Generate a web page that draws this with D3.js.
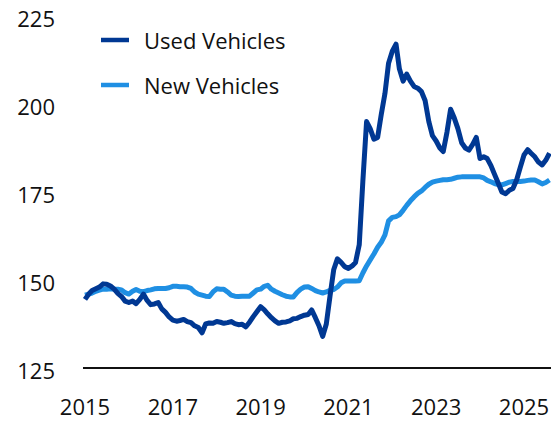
<!DOCTYPE html>
<html>
<head>
<meta charset="utf-8">
<script src="https://cdn.jsdelivr.net/npm/d3@7"></script>
<style>
  body { margin: 0; background: #fff; }
  text { font-family: "Open Sans", "Noto Sans", sans-serif; fill: #111; }
</style>
</head>
<body>
<svg width="551" height="421"></svg>
<script>
// monthly index values, Jan 2015 .. Aug 2025
var startMonth = new Date(2015, 0, 1);

var usedVehicles = [
	144.5, 146.0, 147.0, 147.5, 148.0, 148.9, 148.8, 148.3, 147.4, 146.2, 145.3, 144.0,
	143.6, 144.0, 143.3, 144.5, 146.0, 144.2, 143.0, 143.2, 143.6, 141.8, 140.8, 139.5,
	138.6, 138.3, 138.5, 138.8, 138.2, 137.9, 137.0, 136.5, 135.0, 137.5, 137.8, 137.7,
	138.2, 138.0, 137.7, 137.9, 138.2, 137.6, 137.3, 137.4, 136.7, 138.0, 139.6, 141.0,
	142.4, 141.5, 140.4, 139.3, 138.4, 137.7, 138.0, 138.1, 138.4, 139.0, 139.1, 139.6,
	140.0, 140.2, 141.5, 139.3, 137.0, 134.0, 137.5, 145.5, 153.0, 156.0, 155.0, 153.8,
	153.3, 154.0, 155.0, 160.0, 178.0, 195.0, 193.0, 190.0, 190.5, 197.0, 203.0, 211.6,
	215.0, 217.0, 210.0, 206.5, 208.5, 206.5, 205.0, 204.5, 203.5, 201.0, 195.0, 191.0,
	189.5, 187.5, 186.5, 192.0, 198.5, 196.0, 193.0, 189.0, 187.5, 186.9, 188.5, 190.5,
	184.5, 185.0, 184.5, 182.5, 180.0, 177.5, 175.0, 174.5, 175.5, 176.0, 178.5, 182.0,
	185.5, 187.0, 186.0, 185.0, 183.5, 182.7, 184.0, 186.0
];

var newVehicles = [
	145.7, 146.0, 146.3, 146.8, 147.1, 147.4, 147.4, 147.5, 147.4, 147.4, 147.2, 146.4,
	146.0, 146.8, 147.3, 146.8, 146.7, 147.0, 147.2, 147.5, 147.6, 147.6, 147.6, 147.8,
	148.2, 148.2, 148.1, 148.1, 148.0, 147.6, 146.6, 146.0, 145.7, 145.4, 145.3, 146.6,
	147.5, 147.4, 147.4, 146.6, 145.7, 145.4, 145.3, 145.4, 145.4, 145.4, 146.3, 147.2,
	147.4, 148.2, 148.5, 147.4, 146.8, 146.3, 145.8, 145.4, 145.2, 145.2, 146.5, 147.4,
	148.0, 148.1, 147.6, 147.0, 146.6, 146.3, 146.6, 147.1, 147.3, 148.0, 149.2, 149.7,
	149.7, 149.7, 149.7, 149.8, 152.0, 154.0, 155.7, 157.4, 159.3, 160.7, 162.8, 166.8,
	167.8, 168.0, 168.5, 169.8, 171.2, 172.5, 173.6, 174.6, 175.3, 176.3, 177.2, 177.8,
	178.1, 178.3, 178.5, 178.5, 178.6, 178.9, 179.2, 179.3, 179.3, 179.3, 179.3, 179.3,
	179.3, 179.0, 178.3, 177.9, 177.4, 177.1, 177.0, 177.4, 177.8, 178.0, 178.0, 178.0,
	178.1, 178.3, 178.4, 178.4, 177.9, 177.3, 177.7, 178.4
];

var yTicks = [125, 150, 175, 200, 225];
var xTickYears = [2015, 2017, 2019, 2021, 2023, 2025];
var seriesNames = ["Used Vehicles", "New Vehicles"];
var seriesColors = ["#003893", "#1f8fe3"];

var svg = d3.select("svg"),
	width = +svg.attr("width"),
	height = +svg.attr("height");

var x = d3.scaleTime()
	.domain([new Date(2015, 0, 1), new Date(2025, 0, 1)])
	.range([85, 524]);

var y = d3.scaleLinear()
	.domain([125, 225])
	.range([368, 16]);

function toPoints(values) {
	return values.map(function(v, i) {
		return { date: d3.timeMonth.offset(startMonth, i), value: v };
	});
}

var line = d3.line()
	.x(function(d) { return x(d.date); })
	.y(function(d) { return y(d.value); });

// baseline at the bottom of the value range
svg.append("line")
	.attr("x1", 83)
	.attr("x2", width)
	.attr("y1", y(125))
	.attr("y2", y(125))
	.attr("stroke", "#111")
	.attr("stroke-width", 2);

// y labels
svg.append("g").selectAll("text")
	.data(yTicks).enter()
	.append("text")
	.attr("x", 55)
	.attr("y", function(d) { return y(d) + 11; })
	.attr("text-anchor", "end")
	.attr("font-size", 22)
	.text(function(d) { return d; });

// x labels
svg.append("g").selectAll("text")
	.data(xTickYears).enter()
	.append("text")
	.attr("x", function(d) { return x(new Date(d, 0, 1)); })
	.attr("y", 415)
	.attr("text-anchor", "middle")
	.attr("font-size", 22)
	.text(function(d) { return d; });

// lines: new first so used sits on top
var lines = svg.append("g");
lines.append("path")
	.datum(toPoints(newVehicles))
	.attr("fill", "none")
	.attr("stroke", seriesColors[1])
	.attr("stroke-width", 5)
	.attr("stroke-linejoin", "round")
	.attr("d", line);

lines.append("path")
	.datum(toPoints(usedVehicles))
	.attr("fill", "none")
	.attr("stroke", seriesColors[0])
	.attr("stroke-width", 5)
	.attr("stroke-linejoin", "round")
	.attr("d", line);

// legend
var legend = svg.append("g").selectAll("g")
	.data(seriesNames).enter()
	.append("g")
	.attr("transform", function(d, i) { return "translate(101," + (40 + i * 45) + ")"; });

legend.append("line")
	.attr("x1", 0)
	.attr("x2", 28)
	.attr("stroke", function(d, i) { return seriesColors[i]; })
	.attr("stroke-width", 4.5);

legend.append("text")
	.attr("x", 43)
	.attr("y", 9)
	.attr("font-size", 22)
	.text(function(d) { return d; });
</script>
</body>
</html>
